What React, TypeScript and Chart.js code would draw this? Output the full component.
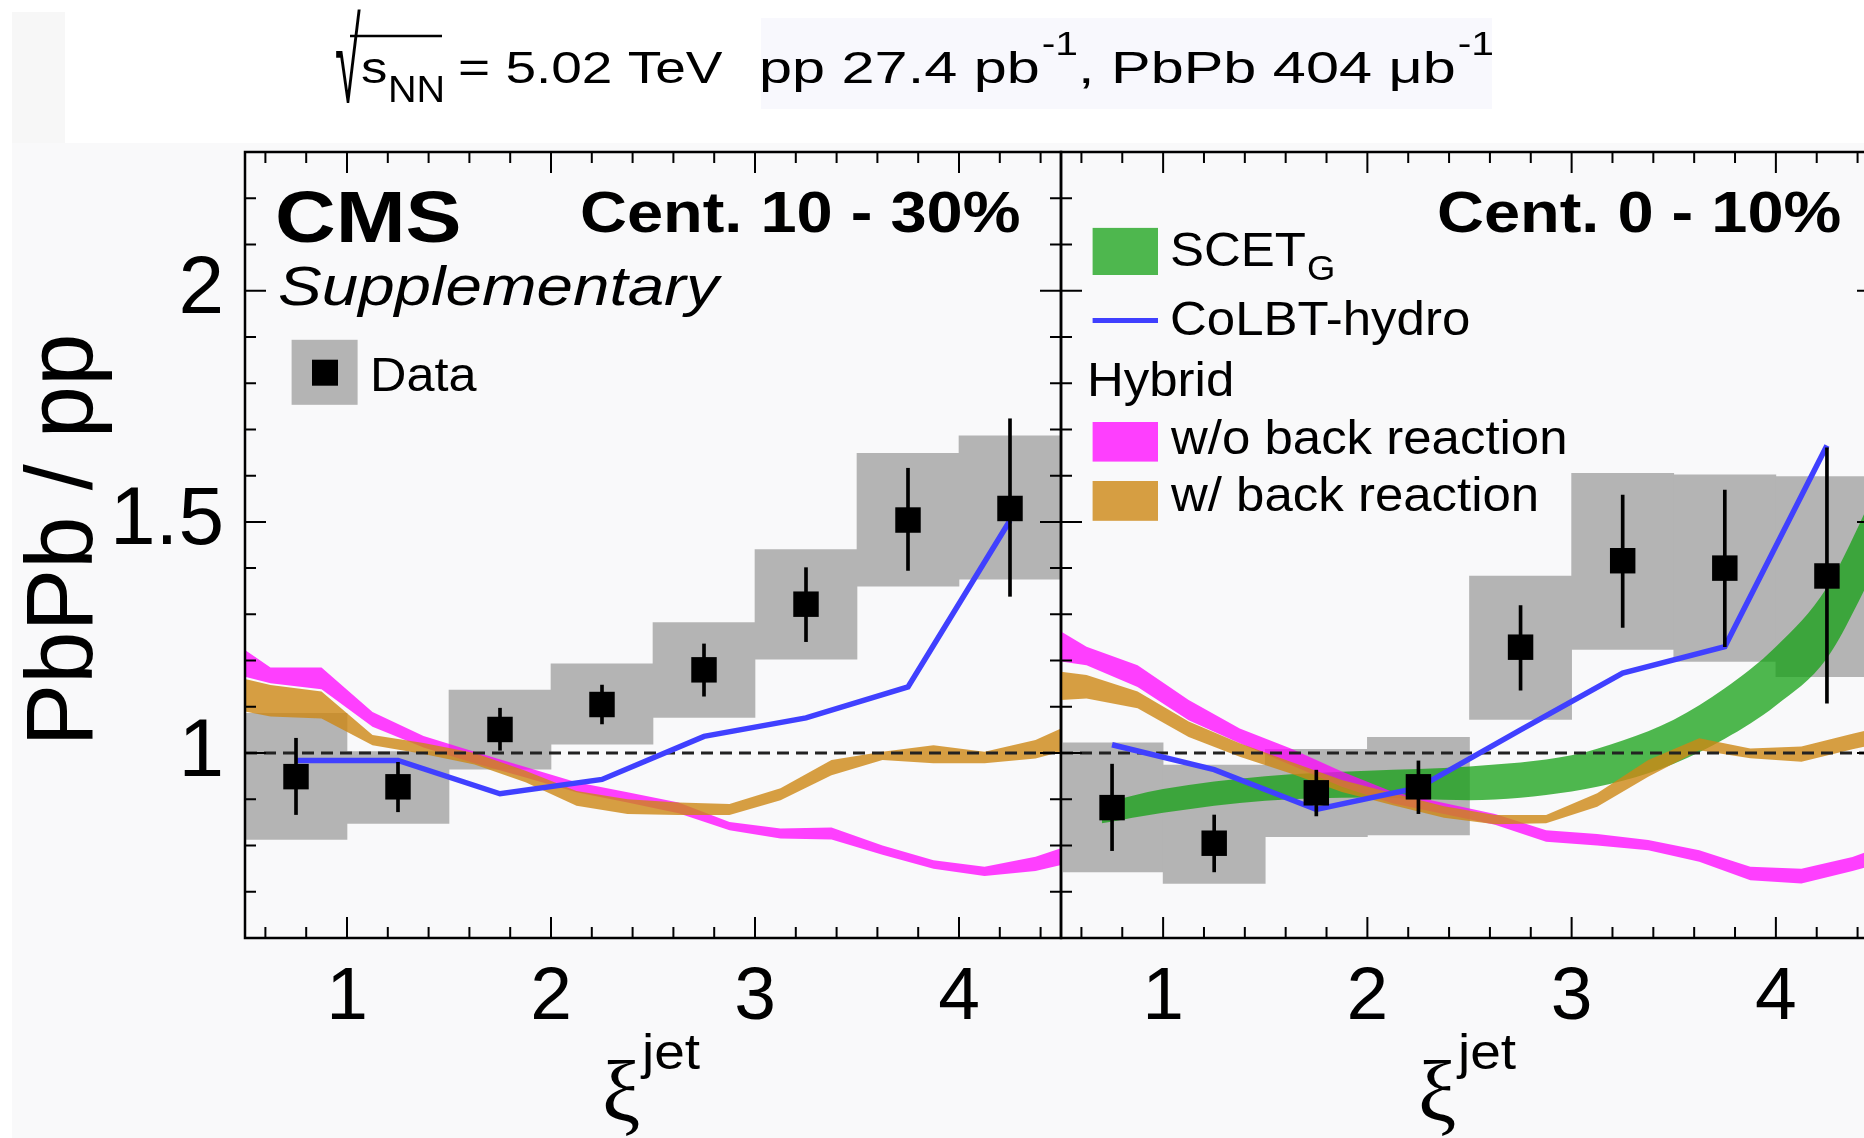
import React, { useEffect, useRef } from 'react';
import { Chart, registerables } from 'chart.js';

Chart.register(...registerables);

const SANS = '"Liberation Sans", Arial, Helvetica, sans-serif';
const SERIF = '"Liberation Serif", "Times New Roman", serif';

// ---------------- axes ----------------
const X_MIN = 0.5;
const X_MAX = 4.5;
const Y_MIN = 0.6;
const Y_MAX = 2.3;
const xTickLabels = [1, 2, 3, 4];
const yTickLabels = [1, 1.5, 2];
const unity = 1;

// ---------------- data ----------------
const binCenters = [0.75, 1.25, 1.75, 2.25, 2.75, 3.25, 3.75, 4.25];

// Cent. 10 - 30%
const data1030 = [0.949, 0.927, 1.051, 1.105, 1.18, 1.322, 1.504, 1.529];
const stat1030Lo = [0.867, 0.873, 1.006, 1.063, 1.123, 1.241, 1.395, 1.339];
const stat1030Hi = [1.032, 0.98, 1.097, 1.147, 1.236, 1.401, 1.616, 1.723];
const sys1030Lo = [0.813, 0.848, 0.965, 1.019, 1.077, 1.203, 1.361, 1.376];
const sys1030Hi = [1.086, 1.003, 1.136, 1.193, 1.282, 1.44, 1.648, 1.686];

// Cent. 0 - 10%
const data010 = [0.882, 0.805, 0.914, 0.927, 1.229, 1.416, 1.4, 1.383];
const stat010Lo = [0.789, 0.743, 0.864, 0.869, 1.136, 1.272, 1.23, 1.108];
const stat010Hi = [0.976, 0.866, 0.963, 0.983, 1.319, 1.558, 1.569, 1.66];
const sys010Lo = [0.743, 0.718, 0.819, 0.823, 1.073, 1.224, 1.198, 1.165];
const sys010Hi = [1.022, 0.974, 1.008, 1.034, 1.383, 1.605, 1.602, 1.598];

// CoLBT-hydro
const colbtX = [0.75, 1.25, 1.75, 2.25, 2.75, 3.25, 3.75, 4.25];
const colbt1030 = [0.984, 0.984, 0.912, 0.943, 1.036, 1.076, 1.143, 1.503];
const colbt010 = [1.018, 0.964, 0.878, 0.925, 1.05, 1.173, 1.23, 1.665];

// Hybrid model
const hybridX = [0.5, 0.625, 0.875, 1.125, 1.375, 1.625, 1.875, 2.125, 2.375, 2.625, 2.875, 3.125, 3.375, 3.625, 3.875, 4.125, 4.375, 4.5];
const noBR1030Hi = [1.223, 1.185, 1.185, 1.089, 1.037, 1.003, 0.97, 0.937, 0.915, 0.893, 0.851, 0.837, 0.839, 0.8, 0.768, 0.754, 0.776, 0.794];
const noBR1030Lo = [1.165, 1.151, 1.138, 1.057, 1.012, 0.978, 0.947, 0.915, 0.893, 0.87, 0.833, 0.815, 0.813, 0.78, 0.75, 0.734, 0.745, 0.758];
const wBR1030Hi = [1.16, 1.147, 1.133, 1.039, 1.022, 1.0, 0.962, 0.918, 0.9, 0.893, 0.89, 0.924, 0.985, 1.003, 1.017, 1.003, 1.028, 1.053];
const wBR1030Lo = [1.09, 1.079, 1.075, 1.017, 0.998, 0.975, 0.937, 0.886, 0.868, 0.866, 0.866, 0.898, 0.952, 0.985, 0.978, 0.978, 0.988, 1.003];
const noBR010Hi = [1.263, 1.23, 1.19, 1.115, 1.053, 1.01, 0.96, 0.916, 0.892, 0.868, 0.833, 0.825, 0.812, 0.79, 0.754, 0.75, 0.775, 0.795];
const noBR010Lo = [1.198, 1.19, 1.143, 1.071, 1.021, 0.974, 0.927, 0.891, 0.868, 0.845, 0.808, 0.8, 0.79, 0.765, 0.725, 0.718, 0.745, 0.76];
const wBR010Hi = [1.176, 1.169, 1.133, 1.068, 1.021, 0.981, 0.942, 0.913, 0.885, 0.866, 0.866, 0.913, 0.985, 1.032, 1.01, 1.014, 1.042, 1.055];
const wBR010Lo = [1.115, 1.118, 1.097, 1.035, 0.992, 0.956, 0.916, 0.887, 0.86, 0.846, 0.848, 0.884, 0.949, 1.006, 0.989, 0.981, 1.008, 1.02];

// SCET_G (0-10% only)
const scetX = [0.7, 1.0, 1.5, 2.0, 2.5, 3.0, 3.25, 3.5, 3.75, 4.0, 4.25, 4.5];
const scet010Hi = [0.891, 0.922, 0.95, 0.962, 0.971, 0.995, 1.027, 1.072, 1.14, 1.23, 1.358, 1.58];
const scet010Lo = [0.848, 0.871, 0.897, 0.904, 0.898, 0.917, 0.94, 0.977, 1.031, 1.103, 1.205, 1.41];

// ---------------- styles ----------------
const GRAY = '#b4b4b4';
const MAGENTA = 'rgba(255,0,255,0.75)';
const ORANGE = 'rgba(205,135,20,0.8)';
const GREEN = 'rgba(20,160,20,0.75)';
const BLUE = '#4040ff';

const W = 1864;
const H = 1138;
const A_LEFT = 245;
const A_RIGHT = 1061;
const TOP = 152;
const BOTTOM = 938;
const B_CANVAS_LEFT = 1051;
const B_PAD = 10;
const B_WIDTH = 817;
const B_CANVAS_W = B_PAD * 2 + B_WIDTH;

const xy = (xs: number[], ys: number[]) => xs.map((x, i) => ({ x, y: ys[i] }));

function buildDatasets(p: any) {
  const ds: any[] = [];
  ds.push({
    type: 'bar', label: 'Data syst.',
    data: binCenters.map((x, i) => ({ x, y: [p.sysLo[i], p.sysHi[i]] })),
    backgroundColor: GRAY, borderWidth: 0, barPercentage: 1, categoryPercentage: 1, grouped: false, order: 30,
  });
  if (p.scetHi) {
    ds.push({ type: 'line', label: 'SCET_G', data: xy(scetX, p.scetHi), fill: '+1', backgroundColor: GREEN, borderColor: 'transparent', borderWidth: 0, pointRadius: 0, cubicInterpolationMode: 'monotone', order: 26 });
    ds.push({ type: 'line', label: 'SCET_G low', data: xy(scetX, p.scetLo), fill: false, borderColor: 'transparent', borderWidth: 0, pointRadius: 0, cubicInterpolationMode: 'monotone', order: 26 });
  }
  ds.push({ type: 'line', label: 'w/o back reaction', data: xy(hybridX, p.noHi), fill: '+1', backgroundColor: MAGENTA, borderColor: 'transparent', borderWidth: 0, pointRadius: 0, order: 25 });
  ds.push({ type: 'line', label: 'w/o low', data: xy(hybridX, p.noLo), fill: false, borderColor: 'transparent', borderWidth: 0, pointRadius: 0, order: 25 });
  ds.push({ type: 'line', label: 'w/ back reaction', data: xy(hybridX, p.wHi), fill: '+1', backgroundColor: ORANGE, borderColor: 'transparent', borderWidth: 0, pointRadius: 0, order: 24 });
  ds.push({ type: 'line', label: 'w/ low', data: xy(hybridX, p.wLo), fill: false, borderColor: 'transparent', borderWidth: 0, pointRadius: 0, order: 24 });
  ds.push({ type: 'line', label: 'unity', data: [{ x: X_MIN, y: unity }, { x: X_MAX, y: unity }], borderColor: '#222', borderWidth: 3, borderDash: [12, 7], pointRadius: 0, fill: false, order: 20 });
  ds.push({ type: 'line', label: 'CoLBT-hydro', data: xy(colbtX, p.colbt), borderColor: BLUE, borderWidth: 5.5, pointRadius: 0, fill: false, order: 15 });
  ds.push({
    type: 'bar', label: 'Data stat.',
    data: binCenters.map((x, i) => ({ x, y: [p.statLo[i], p.statHi[i]] })),
    backgroundColor: '#000', borderWidth: 0, barThickness: 3, maxBarThickness: 3, grouped: false, order: 3,
  });
  ds.push({ type: 'line', label: 'Data', data: xy(binCenters, p.pts), showLine: false, pointStyle: 'rect', pointRadius: 18, pointBackgroundColor: '#000', pointBorderWidth: 0, order: 1 });
  return ds;
}

function txt(ctx: CanvasRenderingContext2D, s: string, x: number, y: number, font: string, sx = 1, sy = 1) {
  ctx.save();
  ctx.translate(x, y);
  ctx.scale(sx, sy);
  ctx.font = font;
  ctx.textAlign = 'left';
  ctx.textBaseline = 'alphabetic';
  ctx.fillStyle = '#000';
  ctx.fillText(s, 0, 0);
  const w = ctx.measureText(s).width * sx;
  ctx.restore();
  return w;
}

const framePlugin = {
  id: 'frameTicks',
  afterDatasetsDraw(chart: any) {
    const { ctx, chartArea: a, scales } = chart;
    const xs = scales.x;
    const ys = scales.y;
    ctx.save();
    ctx.strokeStyle = '#000';
    ctx.lineWidth = 2;
    ctx.beginPath();
    for (let k = 0; k < 20; k++) {
      const v = 0.6 + 0.2 * k;
      const major = Math.abs(v - Math.round(v)) < 1e-6;
      const len = major ? 21 : 11;
      const px = xs.getPixelForValue(v);
      ctx.moveTo(px, a.bottom); ctx.lineTo(px, a.bottom - len);
      ctx.moveTo(px, a.top); ctx.lineTo(px, a.top + len);
    }
    for (let k = 0; k < 16; k++) {
      const v = 0.7 + 0.1 * k;
      const major = Math.abs(v * 2 - Math.round(v * 2)) < 1e-6;
      const len = major ? 21 : 11;
      const py = ys.getPixelForValue(v);
      ctx.moveTo(a.left, py); ctx.lineTo(a.left + len, py);
      ctx.moveTo(a.right, py); ctx.lineTo(a.right - len, py);
    }
    ctx.stroke();
    ctx.lineWidth = 2.5;
    ctx.strokeRect(a.left, a.top, a.right - a.left, a.bottom - a.top);
    ctx.restore();
  },
};

const bgPlugin = {
  id: 'bg',
  beforeDraw(chart: any) {
    const ctx = chart.ctx;
    ctx.save();
    ctx.fillStyle = '#ffffff';
    ctx.fillRect(0, 0, W, H);
    ctx.fillStyle = '#f9f9fa';
    ctx.fillRect(12, 143, W - 12, H - 143);
    ctx.fillStyle = '#f7f7f7';
    ctx.fillRect(12, 12, 53, 131);
    ctx.fillStyle = '#f8f8fd';
    ctx.fillRect(761, 18, 731, 91);
    ctx.restore();
  },
};

function drawXTitle(ctx: CanvasRenderingContext2D, left: number) {
  txt(ctx, 'ξ', left + 357, 1121, `86px ${SERIF}`);
  txt(ctx, 'jet', left + 397, 1069, `50px ${SANS}`, 1.1);
}

const panel1Text = {
  id: 'panel1Text',
  afterDraw(chart: any) {
    const ctx = chart.ctx;
    const a = chart.chartArea;
    ctx.save();
    // energy / luminosity header
    txt(ctx, '√', 335, 102, `52px ${SANS}`, 0.9, 2.25);
    ctx.strokeStyle = '#000';
    ctx.lineWidth = 2.5;
    ctx.beginPath(); ctx.moveTo(350, 36); ctx.lineTo(442, 36); ctx.stroke();
    txt(ctx, 's', 361, 83.3, `44px ${SANS}`, 1.2);
    txt(ctx, 'NN', 388, 101.5, `37px ${SANS}`, 1.07);
    txt(ctx, '= 5.02 TeV', 458, 83.3, `44px ${SANS}`, 1.25);
    let x = 759;
    x += txt(ctx, 'pp 27.4 pb', x, 83.3, `44px ${SANS}`, 1.35);
    x += txt(ctx, '-1', x + 2, 55, `34px ${SANS}`, 1.2) + 2;
    x += txt(ctx, ', PbPb 404 μb', x, 83.3, `44px ${SANS}`, 1.35);
    txt(ctx, '-1', x + 2, 55, `34px ${SANS}`, 1.2);

    // CMS labels
    txt(ctx, 'CMS', 275, 242, `bold 73px ${SANS}`, 1.15);
    txt(ctx, 'Supplementary', 278, 305, `italic 56px ${SANS}`, 1.17);
    txt(ctx, 'Cent. 10 - 30%', 580, 231.5, `bold 58px ${SANS}`, 1.12);

    // Data legend
    ctx.fillStyle = GRAY;
    ctx.fillRect(291.6, 339.8, 66, 65);
    ctx.fillStyle = '#000';
    ctx.fillRect(325 - 13, 372.7 - 13, 26, 26);
    txt(ctx, 'Data', 370, 391, `48px ${SANS}`, 1.05);

    // y title
    ctx.save();
    ctx.translate(91.7, 540);
    ctx.rotate(-Math.PI / 2);
    ctx.font = `94px ${SANS}`;
    ctx.textAlign = 'center';
    ctx.textBaseline = 'alphabetic';
    ctx.fillStyle = '#000';
    ctx.fillText('PbPb / pp', 0, 0);
    ctx.restore();

    drawXTitle(ctx, a.left);
    ctx.restore();
  },
};

const panel2Text = {
  id: 'panel2Text',
  afterDraw(chart: any) {
    const ctx = chart.ctx;
    const a = chart.chartArea;
    const bx = (X: number) => X - A_RIGHT + a.left;
    ctx.save();
    txt(ctx, 'Cent. 0 - 10%', bx(1437), 231.5, `bold 58px ${SANS}`, 1.12);
    const f = `49px ${SANS}`;
    // legend boxes
    ctx.fillStyle = GREEN;
    ctx.fillRect(bx(1092.6), 227.9, 65.4, 47.1);
    ctx.strokeStyle = BLUE;
    ctx.lineWidth = 5;
    ctx.beginPath(); ctx.moveTo(bx(1092.6), 320.4); ctx.lineTo(bx(1158), 320.4); ctx.stroke();
    ctx.fillStyle = MAGENTA;
    ctx.fillRect(bx(1092.6), 422, 65.4, 39.6);
    ctx.fillStyle = ORANGE;
    ctx.fillRect(bx(1092.6), 481, 65.4, 39.8);
    const w = txt(ctx, 'SCET', bx(1170), 265.5, f, 1.04);
    txt(ctx, 'G', bx(1170) + w + 1, 280, `35px ${SANS}`, 1.04);
    txt(ctx, 'CoLBT-hydro', bx(1170), 334.6, f, 1.04);
    txt(ctx, 'Hybrid', bx(1087), 396, f, 1.04);
    txt(ctx, 'w/o back reaction', bx(1171), 453.8, f, 1.04);
    txt(ctx, 'w/ back reaction', bx(1171), 511, f, 1.04);
    drawXTitle(ctx, a.left);
    ctx.restore();
  },
};

function makeScales(isLeft: boolean) {
  return {
    x: {
      type: 'linear', min: X_MIN, max: X_MAX, offset: false,
      grid: { display: false, drawTicks: false },
      border: { display: false },
      afterBuildTicks: (s: any) => { s.ticks = xTickLabels.map((v) => ({ value: v })); },
      afterFit: (s: any) => { s.height = H - BOTTOM; },
      ticks: { autoSkip: false, maxRotation: 0, minRotation: 0, padding: 15, color: '#000', font: { family: SANS, size: 75 }, callback: (v: any) => String(v) },
    },
    y: {
      type: 'linear', min: Y_MIN, max: Y_MAX, display: true,
      grid: { display: false, drawTicks: false },
      border: { display: false },
      afterBuildTicks: (s: any) => { s.ticks = yTickLabels.map((v) => ({ value: v })); },
      afterFit: (s: any) => { s.width = isLeft ? A_LEFT : B_PAD; },
      ticks: { display: isLeft, autoSkip: false, padding: 21, color: '#000', font: { family: SANS, size: 82 }, callback: (v: any) => String(v) },
    },
  };
}

function makeConfig(p: any, isLeft: boolean): any {
  return {
    type: 'line',
    data: { datasets: buildDatasets(p) },
    options: {
      animation: false,
      responsive: false,
      devicePixelRatio: 1,
      events: [],
      layout: {
        autoPadding: false,
        padding: isLeft
          ? { left: 0, top: TOP, right: W - A_RIGHT, bottom: 0 }
          : { left: 0, top: TOP, right: B_PAD, bottom: 0 },
      },
      plugins: { legend: { display: false }, tooltip: { enabled: false }, title: { display: false } },
      scales: makeScales(isLeft),
    },
    plugins: isLeft ? [bgPlugin, framePlugin, panel1Text] : [framePlugin, panel2Text],
  };
}

const panel1030 = {
  pts: data1030, statLo: stat1030Lo, statHi: stat1030Hi, sysLo: sys1030Lo, sysHi: sys1030Hi,
  colbt: colbt1030, noHi: noBR1030Hi, noLo: noBR1030Lo, wHi: wBR1030Hi, wLo: wBR1030Lo,
};
const panel010 = {
  pts: data010, statLo: stat010Lo, statHi: stat010Hi, sysLo: sys010Lo, sysHi: sys010Hi,
  colbt: colbt010, noHi: noBR010Hi, noLo: noBR010Lo, wHi: wBR010Hi, wLo: wBR010Lo,
  scetHi: scet010Hi, scetLo: scet010Lo,
};

export default function App() {
  const refA = useRef<HTMLCanvasElement>(null);
  const refB = useRef<HTMLCanvasElement>(null);
  useEffect(() => {
    const a = new Chart(refA.current as HTMLCanvasElement, makeConfig(panel1030, true));
    const b = new Chart(refB.current as HTMLCanvasElement, makeConfig(panel010, false));
    return () => { a.destroy(); b.destroy(); };
  }, []);
  return (
    <div style={{ position: 'absolute', left: 0, top: 0, width: W, height: H, overflow: 'hidden', background: '#fff' }}>
      <canvas ref={refA} width={W} height={H} style={{ position: 'absolute', left: 0, top: 0, width: W, height: H }} />
      <canvas ref={refB} width={B_CANVAS_W} height={H} style={{ position: 'absolute', left: B_CANVAS_LEFT, top: 0, width: B_CANVAS_W, height: H }} />
    </div>
  );
}
